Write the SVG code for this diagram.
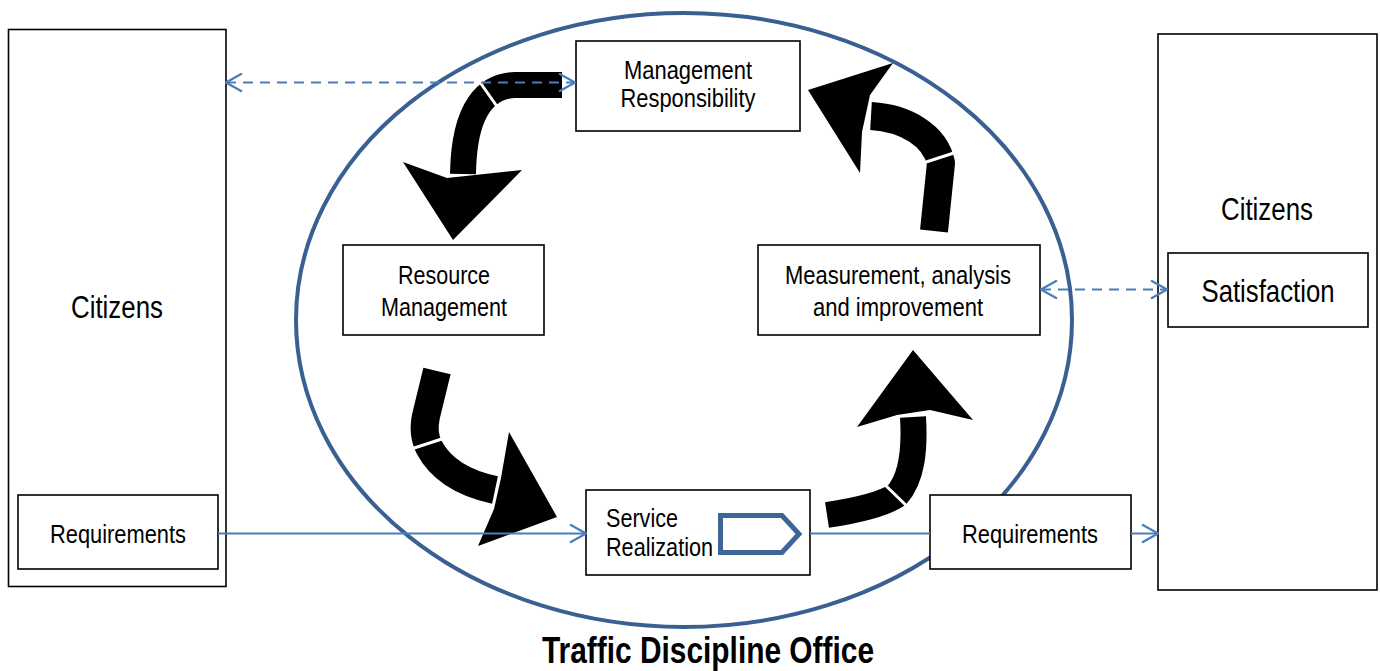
<svg xmlns="http://www.w3.org/2000/svg" width="1380" height="671" viewBox="0 0 1380 671">
  <style>
    .box { fill: #ffffff; stroke: #000000; stroke-width: 1.6; }
    .lbl { font-family: "Liberation Sans Narrow", "Arial Narrow", "Liberation Sans", Arial, sans-serif; font-size: 26.5px; fill: #000000; text-anchor: middle; }
    .big { font-size: 31px; }
    .conn { fill: none; stroke: #4A7EBB; stroke-width: 2; }
    .dash { stroke-dasharray: 10 7; }
    .shaft { fill: none; stroke: #000000; stroke-linecap: butt; stroke-linejoin: round; }
    .head { fill: #000000; stroke: none; }
    .cut { stroke: #ffffff; stroke-width: 3; }
  </style>
  <defs>
    <marker id="open" viewBox="0 0 18 20" refX="17" refY="10" markerWidth="18" markerHeight="20" markerUnits="userSpaceOnUse" orient="auto-start-reverse">
      <path d="M1,1 L17,10 L1,19" fill="none" stroke="#4A7EBB" stroke-width="2.2" stroke-dasharray="none"/>
    </marker>
  </defs>

  <rect width="1380" height="671" fill="#ffffff"/>

  <!-- office boundary -->
  <g id="office">
    <ellipse cx="684" cy="320" rx="388" ry="307" fill="none" stroke="#3A6091" stroke-width="4"/>
    <text class="lbl" x="708" y="663" font-weight="bold" textLength="332" lengthAdjust="spacingAndGlyphs" style="font-size:36px">Traffic Discipline Office</text>
  </g>

  <!-- cycle arrows -->
  <g id="cycle-arrows">
    <!-- Management -> Resource -->
    <path class="shaft" stroke-width="26" d="M562,85 L515,85 C488,86 464,106 463,174"/>
    <polygon class="head" points="403,162 447,178 522,170 453,240"/>
    <line class="cut" x1="477" y1="78" x2="503" y2="115"/>
    <!-- Resource -> Service -->
    <path class="shaft" stroke-width="28" d="M437,371 L426,416 C423,430 426,441 429,447 C440,468 462,483 495,490"/>
    <polygon class="head" points="509,432 557,517 478,546 494,509 501,478"/>
    <line class="cut" x1="408" y1="450" x2="448" y2="437"/>
    <!-- Service -> Measurement -->
    <path class="shaft" stroke-width="26" d="M827,515 C860,510 885,503 897,495 C912,478 915,450 913,417"/>
    <polygon class="head" points="913,350 973,420 930,410 897,415 857,427"/>
    <line class="cut" x1="882" y1="482" x2="912" y2="511"/>
    <!-- Measurement -> Management -->
    <path class="shaft" stroke-width="28" d="M934,231 L941,163 C935,135 905,118 871,116"/>
    <polygon class="head" points="808,90 893,63 870,95 862,132 860,173"/>
    <line class="cut" x1="920" y1="164" x2="960" y2="151"/>
  </g>

  <!-- left citizens -->
  <g id="citizens-left">
    <rect class="box" x="8.5" y="29.5" width="217.5" height="557"/>
    <text class="lbl big" x="117" y="318" textLength="92" lengthAdjust="spacingAndGlyphs">Citizens</text>
  </g>
  <g id="requirements-left">
    <rect class="box" x="18" y="495" width="200" height="74"/>
    <text class="lbl" x="118" y="543" textLength="136" lengthAdjust="spacingAndGlyphs">Requirements</text>
  </g>

  <!-- right citizens -->
  <g id="citizens-right">
    <rect class="box" x="1158" y="34" width="219" height="556"/>
    <text class="lbl big" x="1267" y="220" textLength="92" lengthAdjust="spacingAndGlyphs">Citizens</text>
  </g>
  <g id="satisfaction">
    <rect class="box" x="1168" y="253" width="200" height="74"/>
    <text class="lbl" x="1268" y="302" textLength="133" lengthAdjust="spacingAndGlyphs" style="font-size:32px">Satisfaction</text>
  </g>
  <g id="requirements-right">
    <rect class="box" x="930" y="495" width="201" height="74"/>
    <text class="lbl" x="1030" y="543" textLength="136" lengthAdjust="spacingAndGlyphs">Requirements</text>
  </g>

  <!-- process nodes -->
  <g id="management-responsibility">
    <rect class="box" x="576" y="41" width="224" height="90"/>
    <text class="lbl" x="688" y="79" textLength="128" lengthAdjust="spacingAndGlyphs">Management</text>
    <text class="lbl" x="688" y="107" textLength="135" lengthAdjust="spacingAndGlyphs">Responsibility</text>
  </g>
  <g id="resource-management">
    <rect class="box" x="343" y="245" width="201" height="90"/>
    <text class="lbl" x="444" y="284" textLength="92" lengthAdjust="spacingAndGlyphs">Resource</text>
    <text class="lbl" x="444" y="316" textLength="126" lengthAdjust="spacingAndGlyphs">Management</text>
  </g>
  <g id="measurement">
    <rect class="box" x="758" y="245" width="282" height="90"/>
    <text class="lbl" x="898" y="284" textLength="226" lengthAdjust="spacingAndGlyphs">Measurement, analysis</text>
    <text class="lbl" x="898" y="316" textLength="170" lengthAdjust="spacingAndGlyphs">and improvement</text>
  </g>
  <g id="service-realization">
    <rect class="box" x="586" y="490" width="224" height="85"/>
    <text class="lbl" x="606" y="527" style="text-anchor:start" textLength="72" lengthAdjust="spacingAndGlyphs">Service</text>
    <text class="lbl" x="606" y="556" style="text-anchor:start" textLength="107" lengthAdjust="spacingAndGlyphs">Realization</text>
    <polygon points="720.5,515.5 782,515.5 799,534 782,552.5 720.5,552.5" fill="none" stroke="#3D6596" stroke-width="5" stroke-linejoin="miter"/>
  </g>

  <!-- connectors -->
  <g id="connectors">
    <line class="conn dash" x1="226" y1="82.5" x2="575" y2="82.5" marker-start="url(#open)" marker-end="url(#open)"/>
    <line class="conn dash" x1="1041" y1="289.5" x2="1167" y2="289.5" marker-start="url(#open)" marker-end="url(#open)"/>
    <line class="conn" x1="218" y1="533.5" x2="586" y2="533.5" marker-end="url(#open)"/>
    <line class="conn" x1="810" y1="533.5" x2="930" y2="533.5"/>
    <line class="conn" x1="1131" y1="533.5" x2="1158" y2="533.5" marker-end="url(#open)"/>
  </g>
</svg>
